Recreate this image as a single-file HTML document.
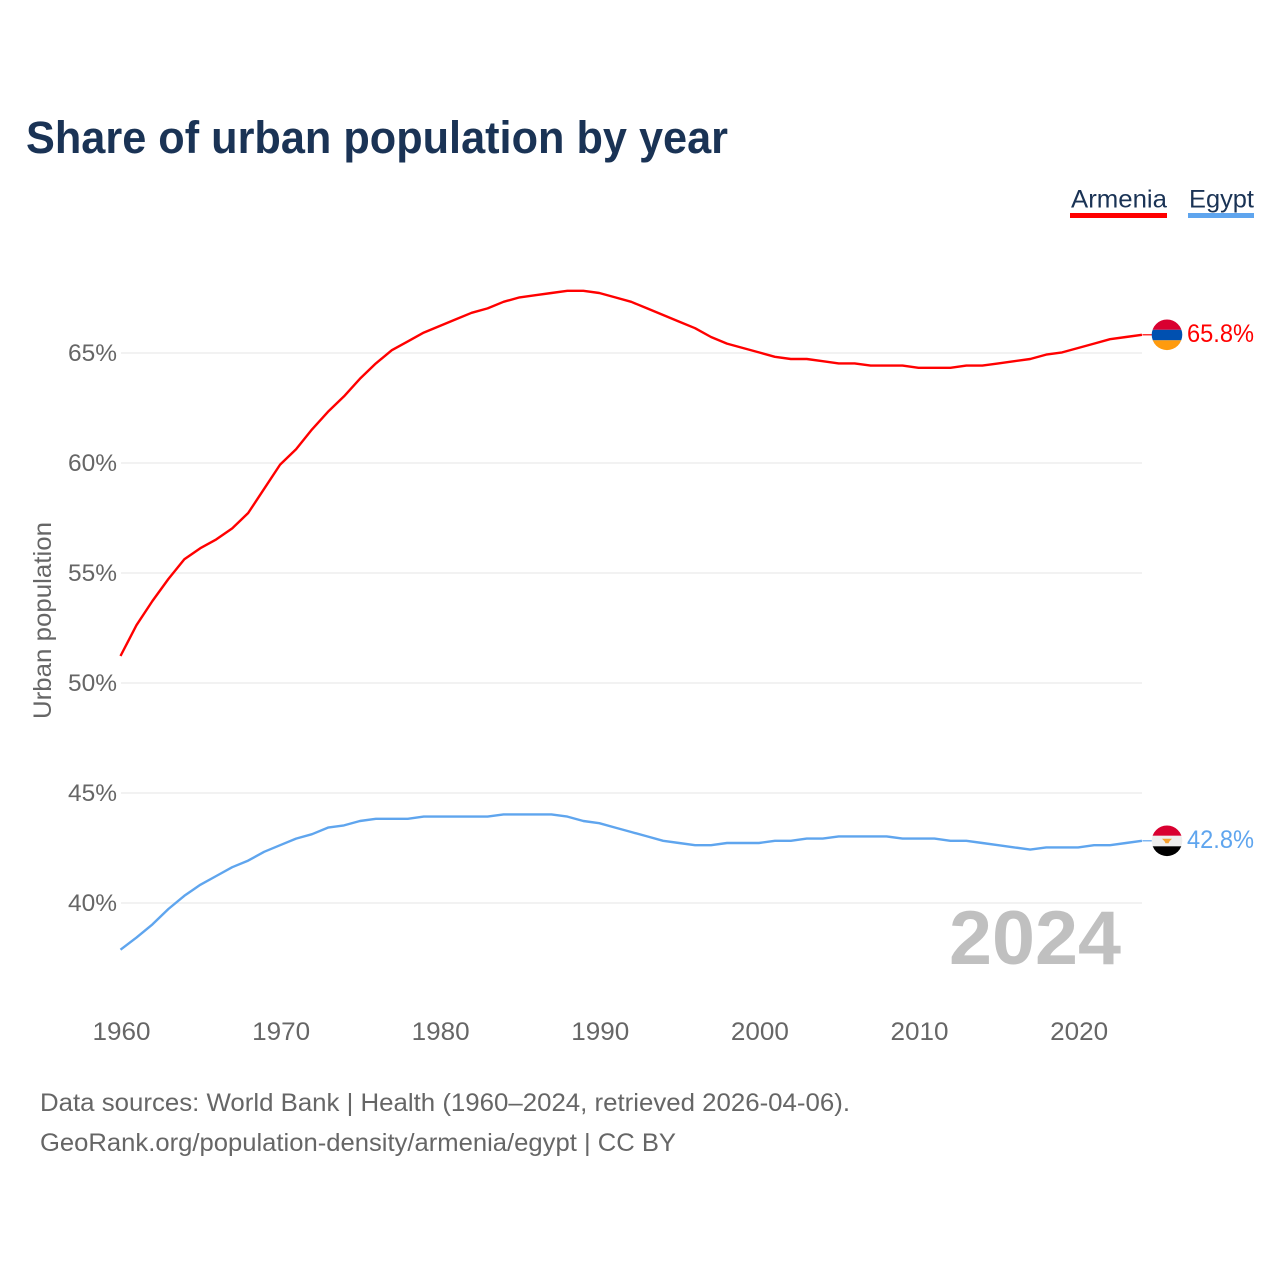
<!DOCTYPE html>
<html lang="en">
<head>
<meta charset="utf-8">
<title>Share of urban population by year</title>
<style>
html,body{margin:0;padding:0;background:#fff;}
svg{display:block;font-family:"Liberation Sans",sans-serif;}
</style>
</head>
<body>
<svg id="chart" xmlns="http://www.w3.org/2000/svg" width="1280" height="1280" viewBox="0 0 1280 1280">
  <rect x="0" y="0" width="1280" height="1280" fill="#ffffff"/>
  <text x="26" y="153" font-size="45" font-weight="700" fill="#1a3355" textLength="702" lengthAdjust="spacingAndGlyphs">Share of urban population by year</text>

  <g>
    <g>
      <text x="1071" y="207.5" font-size="25" fill="#1a3355" textLength="96" lengthAdjust="spacingAndGlyphs">Armenia</text>
      <rect x="1070" y="213" width="97" height="5" fill="#ff0000"/>
    </g>
    <g>
      <text x="1189" y="207.5" font-size="25" fill="#1a3355" textLength="65" lengthAdjust="spacingAndGlyphs">Egypt</text>
      <rect x="1188" y="213" width="66" height="5" fill="#5fa5ee"/>
    </g>
  </g>

  <g id="grid"></g>
  <g id="yticks"></g>
  <g id="xticks"></g>

  <text transform="translate(51,719) rotate(-90)" font-size="25" fill="#666666" textLength="197" lengthAdjust="spacingAndGlyphs">Urban population</text>

  <text x="949" y="964" font-size="76" font-weight="700" fill="#c0c0c0" textLength="172" lengthAdjust="spacingAndGlyphs">2024</text>

  <g id="series" transform="translate(-0.5,-0.6)"></g>
  <g id="ends" transform="translate(0,-0.6)"></g>

  <g>
    <text x="40" y="1111" font-size="25" fill="#666666" textLength="810" lengthAdjust="spacingAndGlyphs">Data sources: World Bank | Health (1960–2024, retrieved 2026-04-06).</text>
    <text x="40" y="1151" font-size="25" fill="#666666" textLength="636" lengthAdjust="spacingAndGlyphs">GeoRank.org/population-density/armenia/egypt | CC BY</text>
  </g>
</svg>
<script>
var years = [1960,1961,1962,1963,1964,1965,1966,1967,1968,1969,
  1970,1971,1972,1973,1974,1975,1976,1977,1978,1979,
  1980,1981,1982,1983,1984,1985,1986,1987,1988,1989,
  1990,1991,1992,1993,1994,1995,1996,1997,1998,1999,
  2000,2001,2002,2003,2004,2005,2006,2007,2008,2009,
  2010,2011,2012,2013,2014,2015,2016,2017,2018,2019,
  2020,2021,2022,2023,2024];
var armeniaValues = [51.2,52.6,53.7,54.7,55.6,56.1,56.5,57.0,57.7,58.8,
  59.9,60.6,61.5,62.3,63.0,63.8,64.5,65.1,65.5,65.9,
  66.2,66.5,66.8,67.0,67.3,67.5,67.6,67.7,67.8,67.8,
  67.7,67.5,67.3,67.0,66.7,66.4,66.1,65.7,65.4,65.2,
  65.0,64.8,64.7,64.7,64.6,64.5,64.5,64.4,64.4,64.4,
  64.3,64.3,64.3,64.4,64.4,64.5,64.6,64.7,64.9,65.0,
  65.2,65.4,65.6,65.7,65.8];
var egyptValues = [37.85,38.4,39.0,39.7,40.3,40.8,41.2,41.6,41.9,42.3,
  42.6,42.9,43.1,43.4,43.5,43.7,43.8,43.8,43.8,43.9,
  43.9,43.9,43.9,43.9,44.0,44.0,44.0,44.0,43.9,43.7,
  43.6,43.4,43.2,43.0,42.8,42.7,42.6,42.6,42.7,42.7,
  42.7,42.8,42.8,42.9,42.9,43.0,43.0,43.0,43.0,42.9,
  42.9,42.9,42.8,42.8,42.7,42.6,42.5,42.4,42.5,42.5,
  42.5,42.6,42.6,42.7,42.8];
var yTickValues = [40,45,50,55,60,65];
var xTickValues = [1960,1970,1980,1990,2000,2010,2020];

var NS = 'http://www.w3.org/2000/svg';
function xScale(year){ return 121 + (year - 1960) * 15.96; }
function yScale(value){ return 903 - (value - 40) * 22; }
function mk(tag, attrs, parent, text){
  var el = document.createElementNS(NS, tag);
  for (var k in attrs) el.setAttribute(k, attrs[k]);
  if (text !== undefined) el.textContent = text;
  parent.appendChild(el);
  return el;
}
var grid = document.getElementById('grid');
var yticks = document.getElementById('yticks');
var xticks = document.getElementById('xticks');
var series = document.getElementById('series');
var ends = document.getElementById('ends');

yTickValues.forEach(function(v){
  var line = mk('line', {x1:121, x2:1142, y1:yScale(v), y2:yScale(v), stroke:'#eeeeee', 'stroke-width':1.6}, grid);
  
  
  var label = mk('text', {x:117, y:yScale(v)+8, 'text-anchor':'end', 'font-size':24, fill:'#666666', textLength:49, lengthAdjust:'spacingAndGlyphs'}, yticks, v + '%');
  
  
});
xTickValues.forEach(function(v){
  var label = mk('text', {x:xScale(v)+0.5, y:1040, 'text-anchor':'middle', 'font-size':25, fill:'#666666', textLength:58, lengthAdjust:'spacingAndGlyphs'}, xticks, String(v));
  
  
});

function linePath(values){
  return values.map(function(v,i){
    return (i ? 'L' : 'M') + xScale(years[i]).toFixed(2) + ' ' + yScale(v).toFixed(2);
  }).join(' ');
}
var armeniaLine = mk('path', {d:linePath(armeniaValues), fill:'none', stroke:'#ff0000', 'stroke-width':2.4, 'stroke-linejoin':'round'}, series);


var egyptLine = mk('path', {d:linePath(egyptValues), fill:'none', stroke:'#5fa5ee', 'stroke-width':2.4, 'stroke-linejoin':'round'}, series);



/* end markers: connector, round flag, value label */
function flag(cy, id, bands, name){
  var clip = mk('clipPath', {id:id}, ends);
  mk('circle', {cx:1167, cy:cy, r:15.3}, clip);
  var g = mk('g', {'clip-path':'url(#' + id + ')'}, ends);
  
  
  mk('rect', {x:1150, y:cy-16, width:34, height:11, fill:bands[0]}, g);
  mk('rect', {x:1150, y:cy-5, width:34, height:10.5, fill:bands[1]}, g);
  mk('rect', {x:1150, y:cy+5.5, width:34, height:11, fill:bands[2]}, g);
  return g;
}
var lastIndex = years.length - 1;
var xEnd = xScale(years[lastIndex]);

var yA = yScale(armeniaValues[lastIndex]);
var connA = mk('line', {x1:xEnd, x2:1153, y1:yA, y2:yA, stroke:'#ff0000', 'stroke-width':1.2}, ends);


flag(yA, 'clip-am', ['#d90030','#0050b0','#ff9b0d'], 'armenia-flag');
var labelA = mk('text', {x:1187, y:yA+7, 'font-size':25, fill:'#ff0000', textLength:67, lengthAdjust:'spacingAndGlyphs'}, ends, armeniaValues[lastIndex].toFixed(1) + '%');



var yE = yScale(egyptValues[lastIndex]);
var connE = mk('line', {x1:xEnd, x2:1153, y1:yE, y2:yE, stroke:'#5fa5ee', 'stroke-width':1.2}, ends);


var egyptFlag = flag(yE, 'clip-eg', ['#d90030','#eeeeee','#000000'], 'egypt-flag');
mk('path', {d:'M' + 1162 + ' ' + (yE-2) + 'h10l-2.5 2.5l-1 2h-3l-1 -2z', fill:'#f5a030'}, egyptFlag);
var labelE = mk('text', {x:1187, y:yE+7, 'font-size':25, fill:'#5fa5ee', textLength:67, lengthAdjust:'spacingAndGlyphs'}, ends, egyptValues[lastIndex].toFixed(1) + '%');


</script>
</body>
</html>
